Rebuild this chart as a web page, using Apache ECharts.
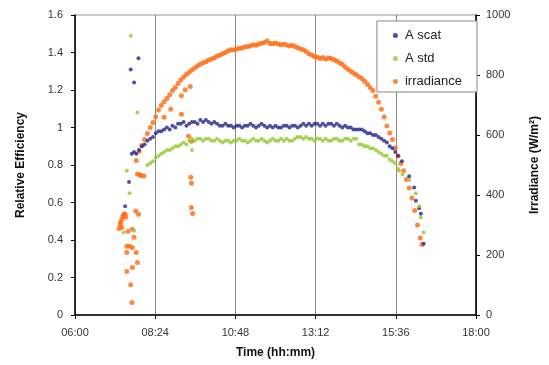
<!DOCTYPE html>
<html><head><meta charset="utf-8">
<script src="https://cdn.jsdelivr.net/npm/echarts@6/dist/echarts.min.js"></script>
<style>html,body{margin:0;padding:0;background:#fff}#c{width:549px;height:365px}</style>
</head><body><div id="c"></div>
<script>
// x tick labels
const xTickLabels = ["06:00","08:24","10:48","13:12","15:36","18:00"];
// regular sampling times (main body of the curves)
const gridTimes = [
"07:50","07:55",
"08:00","08:05","08:10","08:15","08:20","08:25","08:30","08:35","08:40","08:45","08:50","08:55",
"09:00","09:05","09:10","09:15","09:20","09:25","09:30","09:35","09:40","09:45","09:50","09:55",
"10:00","10:05","10:10","10:15","10:20","10:25","10:30","10:35","10:40","10:45","10:50","10:55",
"11:00","11:05","11:10","11:15","11:20","11:25","11:30","11:35","11:40","11:45","11:50","11:55",
"12:00","12:05","12:10","12:15","12:20","12:25","12:30","12:35","12:40","12:45","12:50","12:55",
"13:00","13:05","13:10","13:15","13:20","13:25","13:30","13:35","13:40","13:45","13:50","13:55",
"14:00","14:05","14:10","14:15","14:20","14:25","14:30","14:35","14:40","14:45","14:50","14:55",
"15:00","15:05","15:10","15:15","15:20","15:25","15:30","15:35","15:40"];
const scatGrid = [
0.86,0.88,
0.90,0.91,0.93,0.94,0.95,0.97,0.98,0.98,0.99,1.00,0.99,1.01,
1.00,1.02,1.02,1.03,1.01,1.02,1.03,1.03,1.02,1.04,1.03,1.04,
1.03,1.02,1.03,1.02,1.01,1.01,1.02,1.01,1.01,1.00,1.01,1.01,
1.00,1.01,1.01,1.02,1.01,1.00,1.01,1.02,1.01,1.00,1.01,1.00,
1.01,1.00,1.00,1.01,1.01,1.00,1.01,1.01,1.00,1.01,1.02,1.01,
1.02,1.01,1.02,1.02,1.01,1.02,1.01,1.02,1.02,1.01,1.02,1.01,
1.00,1.01,1.00,1.00,0.99,0.99,0.99,0.99,0.98,0.97,0.97,0.96,
0.96,0.95,0.94,0.93,0.92,0.90,0.89,0.87,0.85];
const stdGrid = [
null,null,
null,null,0.80,0.81,0.82,0.84,0.85,0.86,0.87,0.88,0.88,0.89,
0.90,0.90,0.91,0.92,0.91,0.93,0.94,0.93,0.94,0.94,0.93,0.94,
0.94,0.93,0.93,0.94,0.93,0.92,0.93,0.93,0.92,0.93,0.93,0.94,
0.93,0.93,0.92,0.93,0.94,0.93,0.93,0.94,0.93,0.92,0.93,0.94,
0.93,0.93,0.94,0.93,0.94,0.93,0.93,0.94,0.95,0.95,0.94,0.95,
0.94,0.94,0.93,0.94,0.94,0.93,0.94,0.93,0.93,0.94,0.94,0.93,
0.93,0.94,0.94,0.93,0.94,0.94,0.91,0.91,0.90,0.90,0.89,0.89,
0.88,0.87,0.86,0.85,0.85,0.83,0.82,0.81,0.78];
const irrGrid = [
515,545,
565,585,605,625,642,661,683,698,711,722,734,748,
758,772,783,793,802,809,817,823,831,836,841,844,
850,853,857,863,866,871,875,881,884,883,886,889,
890,894,895,897,901,899,903,906,908,913,905,904,
907,903,901,903,900,897,899,895,891,887,884,878,
871,867,861,860,855,858,853,857,855,851,847,841,
836,827,819,813,806,801,794,788,779,769,758,748,
729,709,686,660,630,607,585,557,530];
// scattered extra points (early morning, outliers, late afternoon)
const scatExtraTimes = ["07:30","07:37","07:40","07:42","07:46","07:46","07:54","15:47","16:00","16:09","16:12","16:18","16:21","16:26"];
const scatExtraVals  = [0.58,0.71,1.31,0.86,0.87,1.24,1.37,0.82,0.74,0.68,0.61,0.57,0.54,0.38];
const stdExtraTimes = ["07:27","07:33","07:38","07:40","07:46","07:52","09:30","15:42","15:48","16:00","16:12","16:18","16:21","16:26"];
const stdExtraVals  = [0.44,0.77,0.65,1.49,0.45,1.08,0.88,0.77,0.75,0.72,0.65,0.58,0.52,0.44];
const irrExtraTimes = ["07:19","07:21","07:22","07:24","07:26","07:28","07:30","07:31","07:24","07:49","07:54","07:35","07:43","07:46","07:33","07:38","07:43","07:33","07:50","07:52","07:43","07:33","07:40","07:42","07:52","07:56","07:59","08:04",
"08:40","08:52","09:11","09:11","09:18","09:27","09:24","09:29","09:28","09:29","09:29","09:31",
"15:45","15:50","15:55","16:00","16:05","16:10","16:15","16:20","16:23"];
const irrExtraVals = [288,302,309,319,330,337,336,326,292,347,336,279,286,259,229,229,225,208,208,175,158,145,101,42,470,467,465,463,
659,686,669,731,751,762,596,579,459,439,358,338,
505,481,452,423,390,348,300,257,235];

function toX(s){const p=s.split(":");return (+p[0])*60+(+p[1])-360;}
function build(times, vals){const out=[];for(let i=0;i<times.length;i++){if(vals[i]!=null)out.push([toX(times[i]),vals[i]]);}return out;}
const scatData = build(gridTimes, scatGrid).concat(build(scatExtraTimes, scatExtraVals));
const stdData  = build(gridTimes, stdGrid).concat(build(stdExtraTimes, stdExtraVals));
const irrData  = build(gridTimes, irrGrid).concat(build(irrExtraTimes, irrExtraVals));

const FONT = "Liberation Sans, Arial, sans-serif";
const chart = echarts.init(document.getElementById('c'), null, {renderer:'canvas'});
chart.setOption({
  animation:false,
  backgroundColor:'#fff',
  grid:{left:75,right:68,top:15,bottom:50,show:true,borderColor:'#999',borderWidth:1},
  legend:{
    orient:'vertical', right:72, top:21,
    backgroundColor:'#fff', borderColor:'#888', borderWidth:1,
    padding:[8,15,4,16], itemGap:10, itemWidth:5, itemHeight:5, icon:'circle',
    textStyle:{fontFamily:FONT,fontSize:13,color:'#222',padding:[0,0,0,2]},
    data:['A scat','A std','irradiance']
  },
  xAxis:{
    type:'value', min:0, max:720, interval:144,
    name:'Time (hh:mm)', nameLocation:'middle', nameGap:32,
    nameTextStyle:{fontFamily:FONT,fontWeight:'bold',fontSize:12,color:'#111'},
    axisLine:{lineStyle:{color:'#000',width:1.5}},
    axisTick:{show:true,length:4,lineStyle:{color:'#000'}},
    axisLabel:{fontFamily:FONT,fontSize:11,color:'#333',margin:12,
      formatter:function(v){const i=Math.round(v/144);return xTickLabels[i]||'';}},
    splitLine:{show:true,lineStyle:{color:'#888',width:1}}
  },
  yAxis:[
    {type:'value',min:0,max:1.6,interval:0.2,position:'left',
     name:'Relative Efficiency',nameLocation:'middle',nameGap:48,nameRotate:90,
     nameTextStyle:{fontFamily:FONT,fontWeight:'bold',fontSize:12,color:'#111'},
     axisLine:{show:true,lineStyle:{color:'#000',width:1.5}},
     axisTick:{show:true,length:4,lineStyle:{color:'#000'}},
     axisLabel:{fontFamily:FONT,fontSize:11,color:'#333',margin:12},
     splitLine:{show:false}},
    {type:'value',min:0,max:1000,interval:200,position:'right',
     name:'Irradiance (W/m²)',nameLocation:'middle',nameGap:53,nameRotate:90,
     nameTextStyle:{fontFamily:FONT,fontWeight:'bold',fontSize:12,color:'#111'},
     axisLine:{show:true,lineStyle:{color:'#000',width:1.5}},
     axisTick:{show:true,length:4,lineStyle:{color:'#000'}},
     axisLabel:{fontFamily:FONT,fontSize:11,color:'#333',margin:10,formatter:function(v){return String(v);}},
     splitLine:{show:false}}
  ],
  series:[
    {name:'A scat',type:'scatter',yAxisIndex:0,symbol:'circle',symbolSize:4,
     itemStyle:{color:'#25258a'},data:scatData,z:3},
    {name:'A std',type:'scatter',yAxisIndex:0,symbol:'circle',symbolSize:4,
     itemStyle:{color:'#96c832'},data:stdData,z:3},
    {name:'irradiance',type:'scatter',yAxisIndex:1,symbol:'circle',symbolSize:5,
     itemStyle:{color:'#ff6a10'},data:irrData,z:2}
  ]
});
</script></body></html>
